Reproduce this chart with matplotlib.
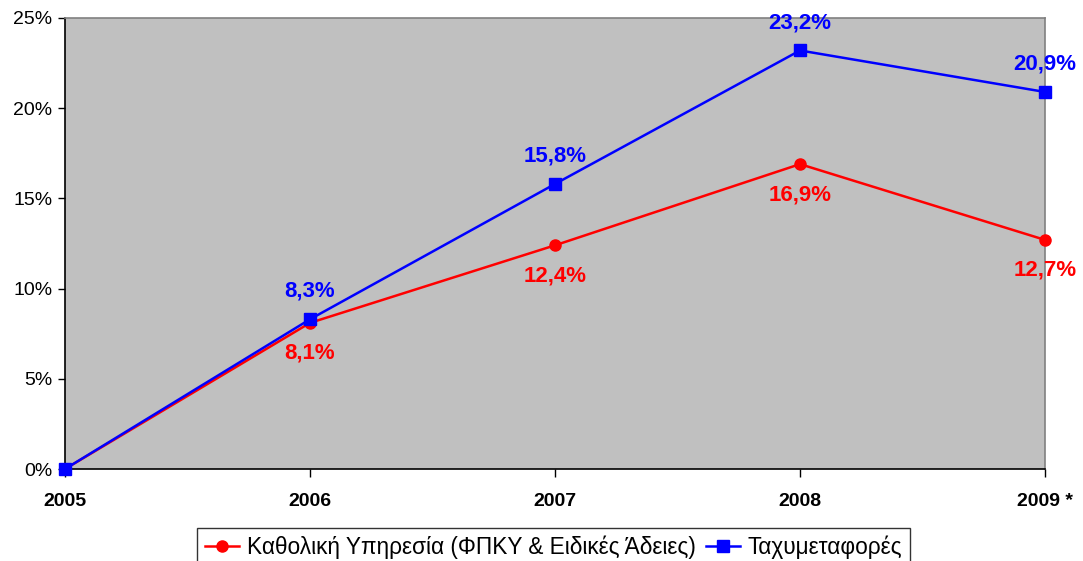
import matplotlib
matplotlib.use("Agg")
import matplotlib.pyplot as plt
from matplotlib.ticker import FuncFormatter

years = ["2005", "2006", "2007", "2008", "2009 *"]
universal = [0.0, 8.1, 12.4, 16.9, 12.7]
courier = [0.0, 8.3, 15.8, 23.2, 20.9]
universal_labels = ["", "8,1%", "12,4%", "16,9%", "12,7%"]
courier_labels = ["", "8,3%", "15,8%", "23,2%", "20,9%"]
series_names = ["Καθολική Υπηρεσία (ΦΠΚΥ & Ειδικές Άδειες)", "Ταχυμεταφορές"]

plt.rcParams['font.family'] = ['Liberation Sans', 'DejaVu Sans']

fig = plt.figure(figsize=(10.83, 5.61), dpi=100)
ax = fig.add_axes([65/1083, 1-469/561, (1045-65)/1083, (469-18)/561])
ax.set_facecolor('#C0C0C0')

x = list(range(len(years)))
ax.plot(x, universal, color='#FF0000', lw=1.8, marker='o', ms=8, label=series_names[0], clip_on=False, zorder=3)
ax.plot(x, courier, color='#0000FF', lw=1.8, marker='s', ms=8, label=series_names[1], clip_on=False, zorder=4)

for i in x:
    if courier_labels[i]:
        ax.annotate(courier_labels[i], (i, courier[i]), xytext=(0, 20), textcoords='offset points',
                    ha='center', va='center', color='#0000FF', fontsize=16, fontweight='bold', annotation_clip=False)
    if universal_labels[i]:
        ax.annotate(universal_labels[i], (i, universal[i]), xytext=(0, -22), textcoords='offset points',
                    ha='center', va='center', color='#FF0000', fontsize=16, fontweight='bold', annotation_clip=False)

ax.set_xlim(0, 4)
ax.set_ylim(0, 25)
ax.set_yticks([0, 5, 10, 15, 20, 25])
ax.yaxis.set_major_formatter(FuncFormatter(lambda v, p: f"{int(v)}%"))
ax.set_xticks(x)
ax.set_xticklabels(years, fontweight='bold', fontsize=14)
ax.tick_params(axis='y', labelsize=14, length=5, width=1, direction='out', pad=4)
ax.tick_params(axis='x', length=6, width=1, direction='out', pad=11)

ax.spines['left'].set_color('black')
ax.spines['bottom'].set_color('black')
ax.spines['top'].set_color('#808080')
ax.spines['right'].set_color('#808080')
for s in ax.spines.values():
    s.set_linewidth(1.2)

leg = fig.legend(loc='upper center', bbox_to_anchor=(553.5/1083, 1-528/561), ncol=2,
                 fontsize=16.3, frameon=True, fancybox=False, edgecolor='black',
                 handlelength=1.5, handletextpad=0.36, columnspacing=0.45,
                 borderpad=0.33, borderaxespad=0.0)
leg.get_frame().set_linewidth(1.0)

fig.savefig("out.png", dpi=100)
